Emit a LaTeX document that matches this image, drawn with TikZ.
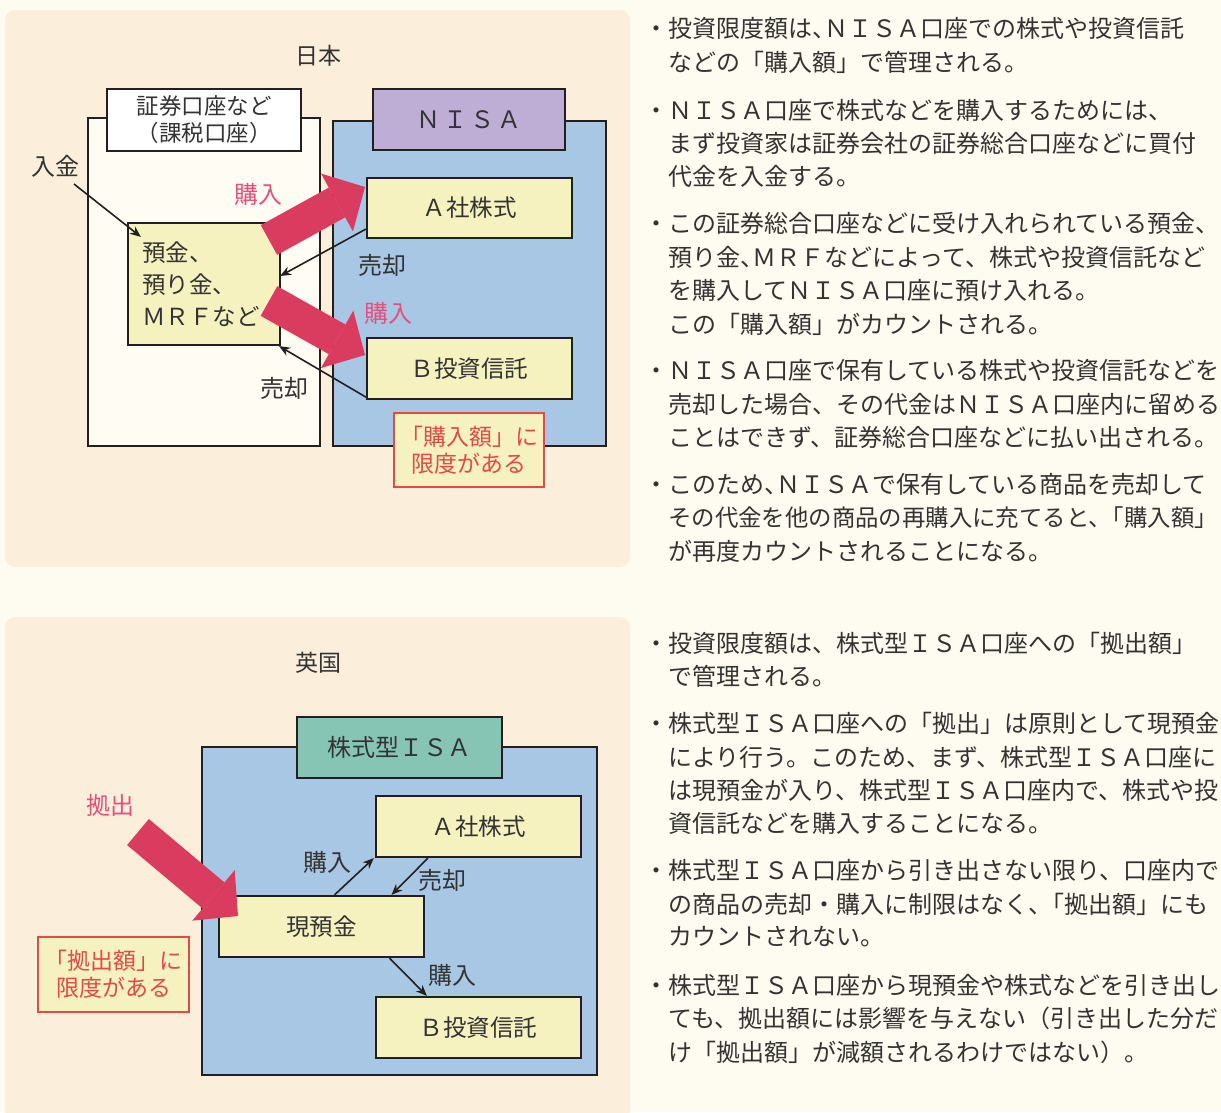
\documentclass[tikz,border=0pt]{standalone}
\usepackage{fontspec}
\setmainfont{Noto Sans CJK JP}
\usetikzlibrary{arrows.meta,calc}
\definecolor{bgc}{HTML}{FEFBF0}
\definecolor{panelc}{HTML}{FBEFDB}
\definecolor{acctc}{HTML}{FEFCF3}
\definecolor{nisac}{HTML}{A8C7E4}
\definecolor{purplec}{HTML}{BEAED5}
\definecolor{yellowc}{HTML}{F5F2C0}
\definecolor{pinkc}{HTML}{D93C5E}
\definecolor{pinktext}{HTML}{E5507A}
\definecolor{redc}{HTML}{E24A45}
\definecolor{tealc}{HTML}{86C5B4}
\definecolor{linec}{HTML}{231F20}
\definecolor{textc}{HTML}{333333}
\tikzset{
  box/.style={draw=linec, line width=2.2pt, inner sep=0pt, text=textc,
    font=\fontsize{23.5}{28}\selectfont},
  redbox/.style={draw=redc, line width=2pt, fill=yellowc, text=redc, align=center,
    inner sep=0pt, font=\fontsize{23}{27}\selectfont},
  lbl/.style={text=textc, inner sep=0pt, font=\fontsize{24}{26}\selectfont},
  plbl/.style={text=pinktext, inner sep=0pt, font=\fontsize{24}{26}\selectfont},
  thinarrow/.style={draw=linec, line width=1.6pt, -{Stealth[length=11pt,width=9pt]}},
  bigarrow/.style={draw=pinkc, line width=34pt, line cap=butt,
    -{Triangle[length=32pt,width=66pt,line width=0pt]}},
  tx/.style={anchor=west, inner sep=0pt, text=textc, font=\fontsize{24}{30}\selectfont},
}
\begin{document}
\begin{tikzpicture}[x=1pt,y=-1pt]
\useasboundingbox (0,0) rectangle (1221,1112);
\fill[bgc] (0,0) rectangle (1221,1112);
\fill[panelc, rounded corners=10pt] (5,10) rectangle (630,567);
\fill[panelc, rounded corners=10pt] (5,617) rectangle (630,1130);

% ---------------- Japan ----------------
\node[lbl, font=\fontsize{23}{26}\selectfont] (jp) at (318,56) {日本};
\node[box, fill=acctc, minimum width=232pt, minimum height=328pt] (acct) at (204,282) {};
\node[box, fill=white, minimum width=194pt, minimum height=62pt, align=center,
  font=\fontsize{22.5}{27}\selectfont] (accth) at (204,120) {証券口座など\\（課税口座）};
\node[box, fill=nisac, minimum width=273pt, minimum height=325pt] (nisa) at (469.5,283.5) {};
\node[box, fill=purplec, minimum width=192pt, minimum height=61pt,
  font=\fontsize{24}{28}\selectfont] (nisah) at (469,119.5) {Ｎ\hspace{3pt}Ｉ\hspace{3pt}Ｓ\hspace{3pt}Ａ};
\node[box, fill=yellowc, minimum width=205pt, minimum height=60pt] (ja) at (469.5,208) {Ａ社株式};
\node[box, fill=yellowc, minimum width=205pt, minimum height=61pt] (jb) at (469.5,368.5) {Ｂ投資信託};
\node[box, fill=yellowc, minimum width=150pt, minimum height=122pt, align=left,
  text width=124pt, inner xsep=14pt, font=\fontsize{23.5}{32}\selectfont] (yokin) at (204,284)
  {預金、\\預り金、\\ＭＲＦなど};
\node[redbox, minimum width=150pt, minimum height=74pt] (lim1) at (469,450) {「購入額」に\\限度がある};

\node[lbl] (nyukin) at (55,166) {入金};
\coordinate (nyukinS) at (74,184);
\draw[thinarrow] (nyukinS) -- ($(yokin.north west)+(14,15)$);
\node[lbl] (sell1) at (382,265) {売却};
\draw[thinarrow] ($(ja.south west)+(0,-10)$) -- ($(yokin.east)+(-1,-8)$);
\node[lbl] (sell2) at (284,388) {売却};
\draw[thinarrow] ($(jb.south west)+(0,-3)$) -- ($(yokin.south east)+(-2,0)$);

\coordinate (b1t) at (269,240);
\coordinate (b1h) at (365,187);
\coordinate (b2t) at (269,301);
\coordinate (b2h) at (365,355);
\draw[bigarrow] (b1t) -- (b1h);
\draw[bigarrow] (b2t) -- (b2h);
\node[plbl] (buy1) at (258,194) {購入};
\node[plbl] (buy2) at (388,313) {購入};

% ---------------- UK ----------------
\node[lbl, font=\fontsize{23}{26}\selectfont] (uk) at (318,663) {英国};
\node[box, fill=nisac, minimum width=395pt, minimum height=328pt] (isa) at (399.5,911) {};
\node[box, fill=tealc, minimum width=205pt, minimum height=61pt,
  font=\fontsize{24}{28}\selectfont] (isah) at (399.5,747.5) {株式型ＩＳＡ};
\node[box, fill=yellowc, minimum width=205pt, minimum height=61pt] (ua) at (478.5,826.5) {Ａ社株式};
\node[box, fill=yellowc, minimum width=205pt, minimum height=61pt] (gen) at (321.5,926.5) {現預金};
\node[box, fill=yellowc, minimum width=205pt, minimum height=61pt] (ub) at (478.5,1027.5) {Ｂ投資信託};
\node[redbox, minimum width=151pt, minimum height=75pt] (lim2) at (113.5,974.5) {「拠出額」に\\限度がある};

\draw[thinarrow] ($(gen.north)+(13,0)$) -- ($(ua.south west)+(-1,0)$);
\draw[thinarrow] ($(ua.south west)+(53,0)$) -- ($(gen.north)+(70,0)$);
\draw[thinarrow] ($(gen.south)+(68,0)$) -- ($(ub.north west)+(52,0)$);
\node[lbl] (ubuy1) at (327,862) {購入};
\node[lbl] (usell) at (442,880) {売却};
\node[lbl] (ubuy2) at (452,975) {購入};

\node[plbl] (kyo) at (110,805) {拠出};
\coordinate (b3t) at (138,832);
\coordinate (b3h) at (238,916);
\draw[bigarrow] (b3t) -- (b3h);

% ---------------- Right text (Japan) ----------------
\node[tx] (t1) at (644,28) {・投資限度額は、\kern-12ptＮＩＳＡ口座での株式や投資信託};
\node[tx] (t2) at (668,62) {などの「購入額」で管理される。};
\node[tx] (t3) at (644,110) {・ＮＩＳＡ口座で株式などを購入するためには、};
\node[tx] (t4) at (668,143) {まず投資家は証券会社の証券総合口座などに買付};
\node[tx] (t5) at (668,176) {代金を入金する。};
\node[tx] (t6) at (644,223) {・この証券総合口座などに受け入れられている預金、};
\node[tx] (t7) at (668,257) {預り金、\kern-12ptＭＲＦなどによって、株式や投資信託など};
\node[tx] (t8) at (668,290) {を購入してＮＩＳＡ口座に預け入れる。};
\node[tx] (t9) at (668,324) {この「購入額」がカウントされる。};
\node[tx] (t10) at (644,370) {・ＮＩＳＡ口座で保有している株式や投資信託などを};
\node[tx] (t11) at (668,404) {売却した場合、その代金はＮＩＳＡ口座内に留める\kern-4pt};
\node[tx] (t12) at (668,437) {ことはできず、証券総合口座などに払い出される。};
\node[tx] (t13) at (644,484) {・このため、\kern-12ptＮＩＳＡで保有している商品を売却して};
\node[tx, font=\fontsize{23.4}{30}\selectfont] (t14) at (668,518) {その代金を他の商品の再購入に充てると、\kern-11pt「購入額」\kern-11pt};
\node[tx] (t15) at (668,551) {が再度カウントされることになる。};

% ---------------- Right text (UK) ----------------
\node[tx] (u1) at (644,643) {・投資限度額は、株式型ＩＳＡ口座への「拠出額」};
\node[tx] (u2) at (668,676) {で管理される。};
\node[tx] (u3) at (644,723) {・株式型ＩＳＡ口座への「拠出」は原則として現預金};
\node[tx] (u4) at (668,757) {により行う。このため、まず、株式型ＩＳＡ口座に};
\node[tx] (u5) at (668,790) {は現預金が入り、株式型ＩＳＡ口座内で、株式や投};
\node[tx] (u6) at (668,823) {資信託などを購入することになる。};
\node[tx] (u7) at (644,870) {・株式型ＩＳＡ口座から引き出さない限り、口座内で};
\node[tx] (u8) at (668,904) {の商品の売却・購入に制限はなく、\kern-12pt「拠出額」にも};
\node[tx] (u9) at (668,937) {カウントされない。};
\node[tx] (u10) at (644,985) {・株式型ＩＳＡ口座から現預金や株式などを引き出し};
\node[tx] (u11) at (668,1018) {ても、拠出額には影響を与えない（引き出した分だ};
\node[tx] (u12) at (668,1052) {け「拠出額」が減額されるわけではない）。};
\end{tikzpicture}
\end{document}
